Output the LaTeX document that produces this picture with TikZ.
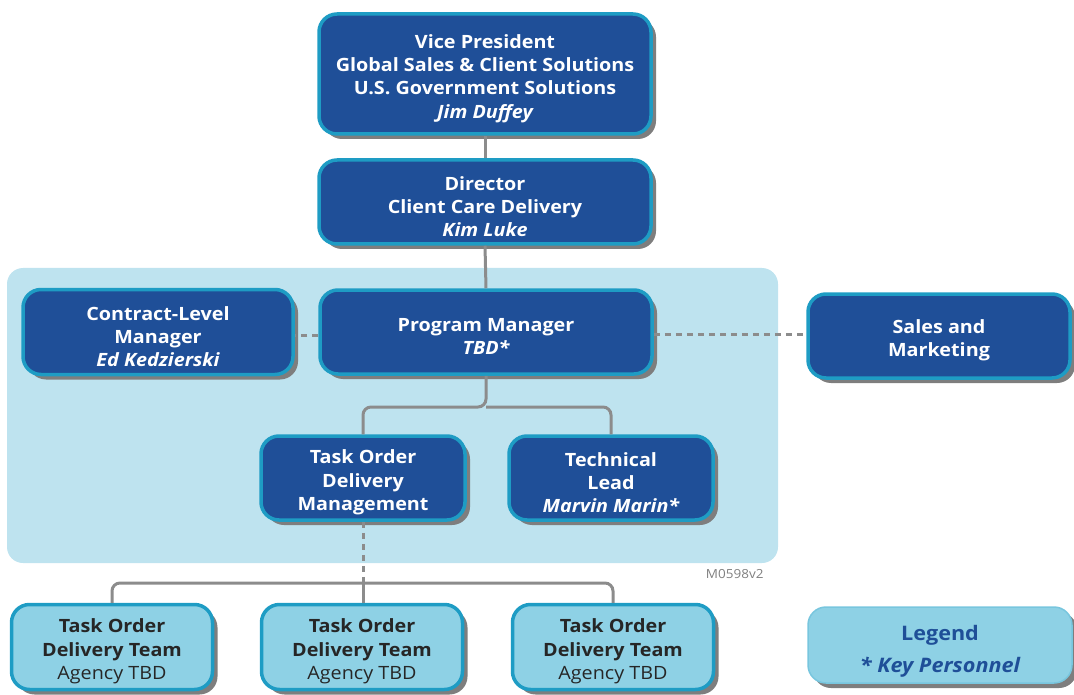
\documentclass[tikz,border=0pt]{standalone}
\usepackage{fontspec}
\setmainfont{Open Sans}[FakeStretch=1.08]
\usetikzlibrary{shadows}
\definecolor{navy}{HTML}{1F4F98}
\definecolor{teal}{HTML}{1E9CC4}
\definecolor{panel}{HTML}{BEE3EF}
\definecolor{lightbox}{HTML}{8ED1E5}
\definecolor{wire}{HTML}{8C8C8C}
\definecolor{shade}{HTML}{7E7E7E}
\begin{document}
\begin{tikzpicture}[x=1pt,y=-1pt,
  card/.style={rounded corners=18pt, line width=3.5pt, draw=teal, inner sep=0pt,
    general shadow={shadow xshift=5pt, shadow yshift=-5pt, fill=shade}},
  % box caption, set a little below the box centre
  caption/.style={align=center, inner sep=0pt, yshift=-4.5pt,
    font=\fontsize{18.3}{23.3}\selectfont\bfseries},
  darkcard/.style={card, fill=navy,
    label={[caption, text=white]center:{#1}}},
  teamcard/.style={card, fill=lightbox, minimum width=201pt, minimum height=85pt,
    label={[caption, text=black!85]center:{#1}}},
  link/.style={draw=wire, line width=3pt, rounded corners=8pt},
  dotted link/.style={link, dash pattern=on 6pt off 5pt}]
\useasboundingbox (0,0) rectangle (1074,695);

% shaded program office panel
\fill[panel, rounded corners=16pt] (7,268) rectangle (778,563);

% leadership chain
\node[darkcard={Vice President\\Global Sales \& Client Solutions\\U.S. Government Solutions\\\itshape Jim Duffey},
  minimum width=332pt, minimum height=120pt] (vp) at (485,74) {};
\node[darkcard={Director\\Client Care Delivery\\\itshape Kim Luke},
  minimum width=332pt, minimum height=84pt] (dir) at (485,202) {};
\node[darkcard={Program Manager\\\itshape TBD*},
  minimum width=332pt, minimum height=84pt] (pm) at (486,332) {};
\node[darkcard={Contract-Level\\Manager\\\itshape Ed Kedzierski},
  minimum width=270pt, minimum height=85pt] (clm) at (158,332) {};
\node[darkcard={Sales and\\Marketing},
  minimum width=262pt, minimum height=84pt] (sales) at (939,336) {};
\node[darkcard={Task Order\\Delivery\\Management},
  minimum width=204pt, minimum height=84pt] (todm) at (363,478) {};
\node[darkcard={Technical\\Lead\\\itshape Marvin Marin*},
  minimum width=204pt, minimum height=84pt] (tl) at (611,478) {};

% delivery teams
\node[teamcard={Task Order\\Delivery Team\\\mdseries Agency TBD}] (t1) at (112,647) {};
\node[teamcard={Task Order\\Delivery Team\\\mdseries Agency TBD}] (t2) at (362,647) {};
\node[teamcard={Task Order\\Delivery Team\\\mdseries Agency TBD}] (t3) at (613,647) {};

% legend
\node[card, draw=lightbox!80!teal, line width=1.5pt, fill=lightbox,
  minimum width=264pt, minimum height=76pt,
  label={[caption, text=navy, yshift=-2pt, font=\fontsize{20}{32}\selectfont\bfseries]center:{Legend\\\itshape * Key Personnel}}]
  (legend) at (940,645) {};

\node[text=gray, font=\fontsize{12.5}{14}\selectfont, anchor=east] (tag) at (767,574) {M0598v2};

% reporting lines
\draw[link] (vp.south) -- (dir.north);
\draw[link] (dir.south) -- (pm.north);
\draw[link] (pm.south) -- (486,407) -| (todm.north);
\draw[link] (486,407) -| (tl.north);
\draw[dotted link] (pm.west |- 0,335) -- (clm.east |- 0,335);
\draw[dotted link] (pm.east |- 0,334) -- (sales.west |- 0,334);
\draw[dotted link, rounded corners=0pt] (todm.south) -- (363,583);
\draw[link] (363,583) -| (t1.north);
\draw[link] (363,583) -| (t3.north);
\draw[link] (363,583) -- (t2.north -| 363,0);
\end{tikzpicture}
\end{document}
